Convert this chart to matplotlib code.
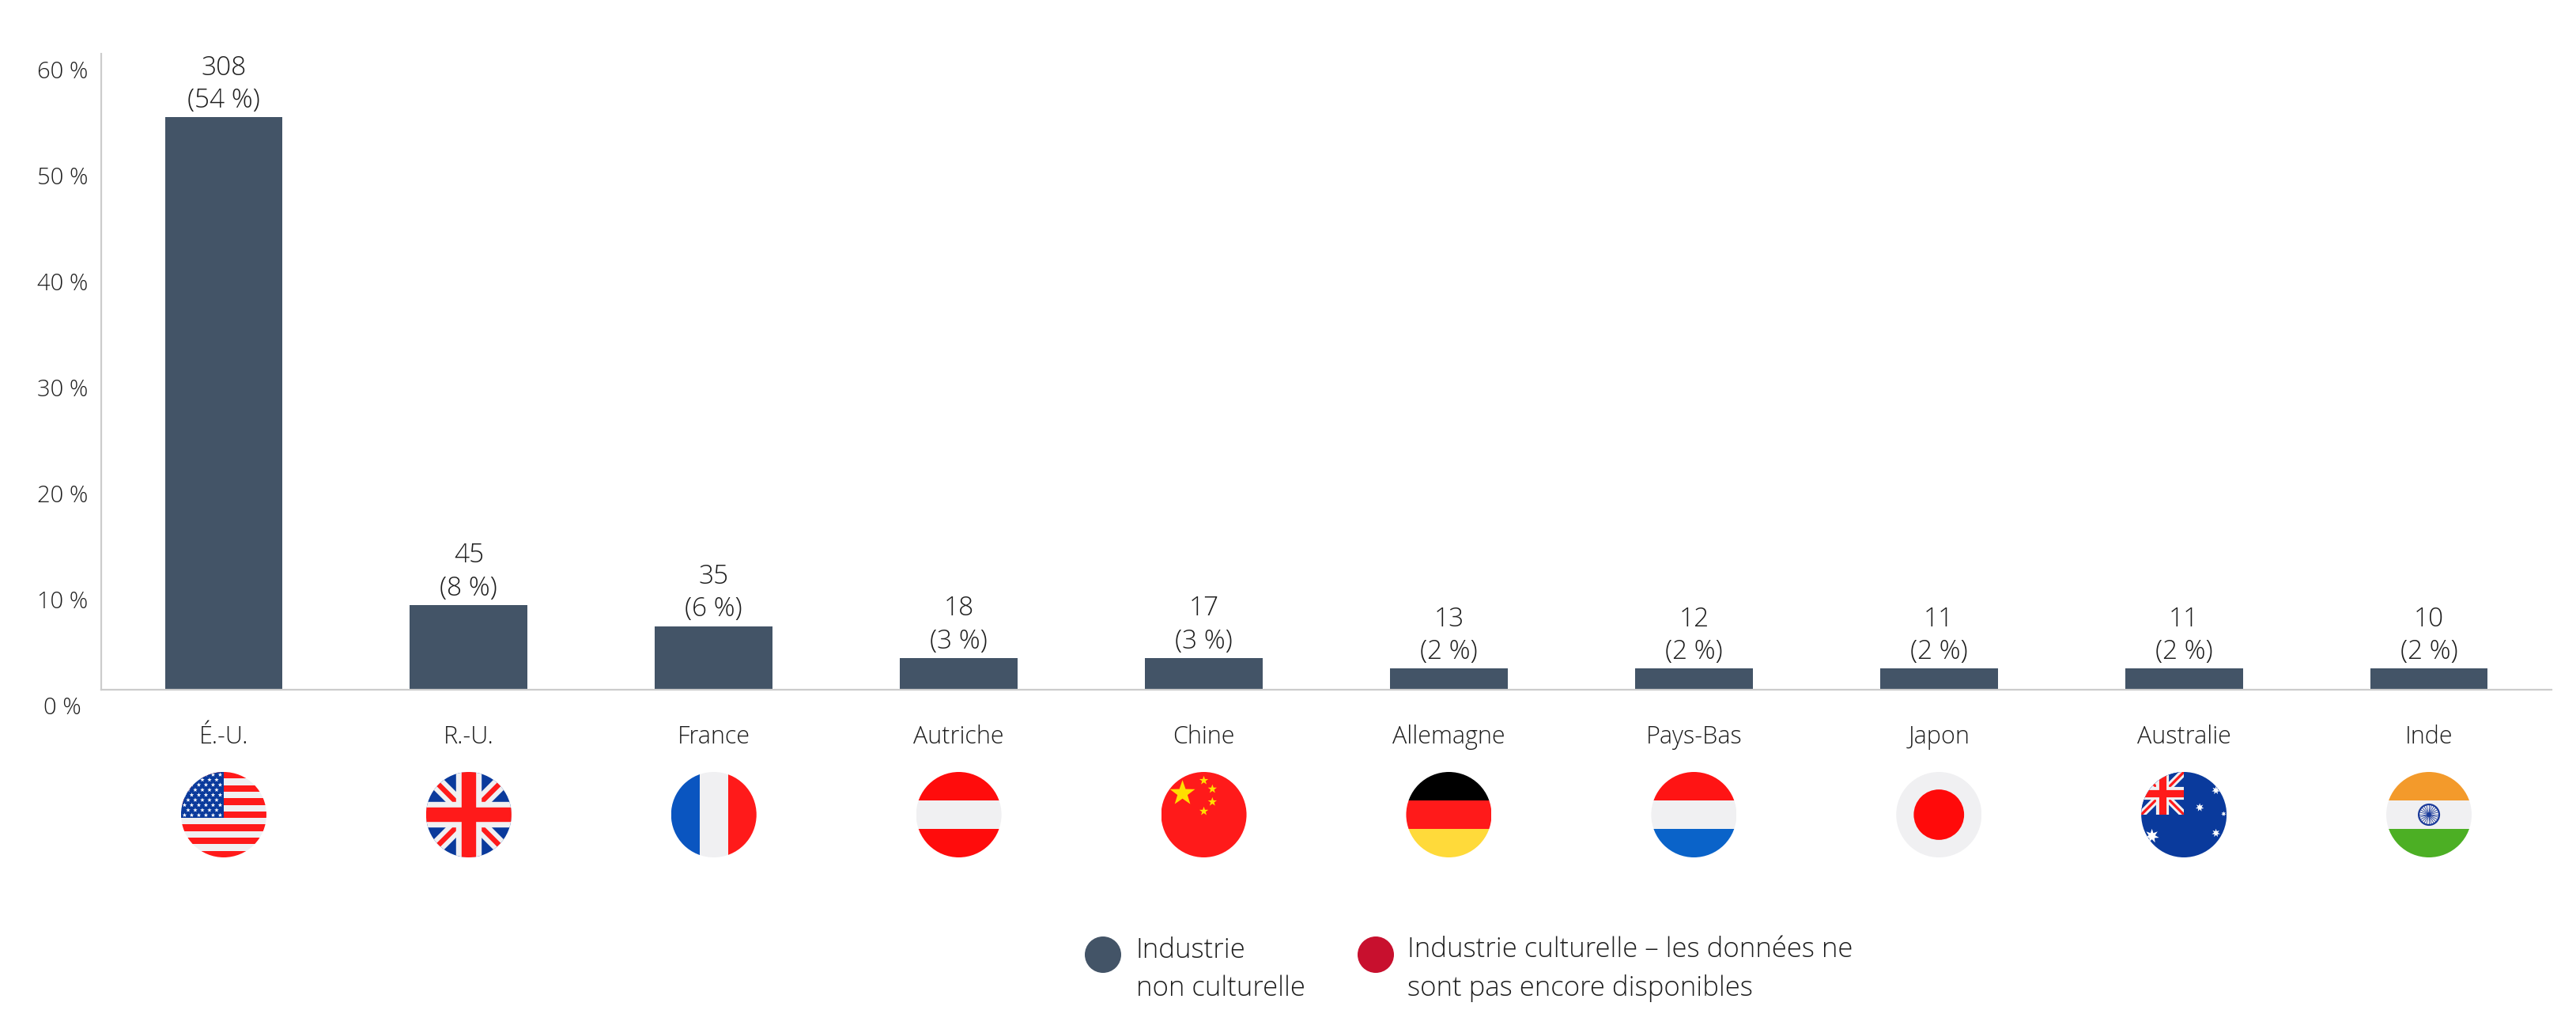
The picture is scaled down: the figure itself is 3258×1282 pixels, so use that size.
import matplotlib
matplotlib.use("Agg")
import matplotlib.pyplot as plt
import numpy as np
from matplotlib.patches import Circle, Rectangle, Polygon
from matplotlib.lines import Line2D
from matplotlib.transforms import ScaledTranslation, Bbox, TransformedBbox

# ---------------- data ----------------
countries = ["É.-U.", "R.-U.", "France", "Autriche", "Chine", "Allemagne",
             "Pays-Bas", "Japon", "Australie", "Inde"]
counts = [308, 45, 35, 18, 17, 13, 12, 11, 11, 10]
shares = [54, 8, 6, 3, 3, 2, 2, 2, 2, 2]
flag_codes = ["us", "gb", "fr", "at", "cn", "de", "nl", "jp", "au", "in"]
yticks = [0, 10, 20, 30, 40, 50, 60]
ytick_labels = ["0 %", "10 %", "20 %", "30 %", "40 %", "50 %", "60 %"]
legend_labels = ["Industrie\nnon culturelle",
                 "Industrie culturelle – les données ne\nsont pas encore disponibles"]
legend_colors = ["#435467", "#c8102e"]

# ---------------- style ----------------
plt.rcParams["font.family"] = ["Open Sans", "DejaVu Sans"]
plt.rcParams["font.weight"] = "light"
TXT = "#1e1e1e"
BAR = "#435467"
SPINE = "#cccccc"

W, H = 3258, 1282
DPI = 200
fig = plt.figure(figsize=(W / DPI, H / DPI), dpi=DPI)
fig.patch.set_facecolor("white")

ax = fig.add_axes([128 / W, 1 - 872 / H, (3227 - 128) / W, (872 - 68) / H])
x = np.arange(len(countries))
ax.bar(x, shares, width=0.48, color=BAR, zorder=2)
ax.set_xlim(-0.5, len(countries) - 0.5)
ax.set_ylim(0, 60)
for s in ["top", "right"]:
    ax.spines[s].set_visible(False)
for s in ["left", "bottom"]:
    ax.spines[s].set_color(SPINE)
    ax.spines[s].set_linewidth(0.8)

ax.set_yticks(yticks, ytick_labels)
ax.tick_params(axis="y", length=0, pad=17.6, labelsize=10.5, labelcolor=TXT)
for lab in ax.get_yticklabels():
    lab.set_horizontalalignment("center")
    lab.set_transform(lab.get_transform() + ScaledTranslation(0, -20 / DPI, fig.dpi_scale_trans))

ax.set_xticks(x, countries)
ax.tick_params(axis="x", length=0, pad=24.5, labelsize=11, labelcolor=TXT)
for lab in ax.get_xticklabels():
    lab.set_verticalalignment("baseline")

for xi, c, s in zip(x, counts, shares):
    ax.annotate(f"{c}\n({s} %)", (xi, s), xytext=(0, 1.5), textcoords="offset points",
                ha="center", va="bottom", fontsize=12, color=TXT, linespacing=1.3)

# ---------------- overlay in pixel coordinates (y down) ----------------
ov = fig.add_axes([0, 0, 1, 1], zorder=5)
ov.set_xlim(0, W)
ov.set_ylim(H, 0)
ov.axis("off")
ov.patch.set_alpha(0)

WHITE = "#f0f0f2"
RED = "#ff1a1a"
BLUE = "#0a3a9c"


def P(px):
    return px * 72 / DPI


def add_patch(p, clip):
    ov.add_patch(p)
    p.set_clip_path(clip)
    return p


def add_line(xs, ys, color, lw_px, clip, box=None):
    ln = Line2D(xs, ys, color=color, lw=P(lw_px), solid_capstyle="butt",
                transform=ov.transData)
    ov.add_line(ln)
    ln.set_clip_path(clip)
    if box is not None:
        ln.set_clip_box(box)
    return ln


def rect(x0, y0, w, h, color, clip, box=None):
    r = Rectangle((x0, y0), w, h, facecolor=color, edgecolor="none",
                  transform=ov.transData)
    add_patch(r, clip)
    if box is not None:
        r.set_clip_box(box)
    return r


def star(cx, cy, R, color, clip, n=5, inner=0.4):
    ang = -np.pi / 2 + np.arange(2 * n) * np.pi / n
    rad = np.array([R, R * inner] * n)
    pts = np.column_stack([cx + rad * np.cos(ang), cy + rad * np.sin(ang)])
    p = Polygon(pts, closed=True, facecolor=color, edgecolor="none",
                transform=ov.transData)
    add_patch(p, clip)


def union_jack(x0, y0, x1, y1, clip, box=None):
    w = x1 - x0
    rect(x0, y0, w, y1 - y0, BLUE, clip, box)
    mx, my = (x0 + x1) / 2, (y0 + y1) / 2
    add_line([x0, x1], [y0, y1], WHITE, 0.17 * w, clip, box)
    add_line([x0, x1], [y1, y0], WHITE, 0.17 * w, clip, box)
    add_line([x0, x1], [y0, y1], RED, 0.06 * w, clip, box)
    add_line([x0, x1], [y1, y0], RED, 0.06 * w, clip, box)
    add_line([mx, mx], [y0, y1], WHITE, 0.30 * w, clip, box)
    add_line([x0, x1], [my, my], WHITE, 0.30 * w, clip, box)
    add_line([mx, mx], [y0, y1], RED, 0.17 * w, clip, box)
    add_line([x0, x1], [my, my], RED, 0.17 * w, clip, box)


def hbands(cx, cy, r, colors, clip):
    h = 2 * r / len(colors)
    for k, c in enumerate(colors):
        rect(cx - r, cy - r + k * h, 2 * r, h, c, clip)


def vbands(cx, cy, r, colors, clip):
    w = 2 * r / len(colors)
    for k, c in enumerate(colors):
        rect(cx - r + k * w, cy - r, w, 2 * r, c, clip)


def draw_flag(code, cx, cy, r):
    clip = Circle((cx, cy), r, transform=ov.transData)
    if code == "us":
        h = 2 * r / 13
        for k in range(13):
            rect(cx - r, cy - r + k * h, 2 * r, h, RED if k % 2 == 0 else WHITE, clip)
        ch = 7 * h
        rect(cx - r, cy - r, r, ch, BLUE, clip)
        for row in range(9):
            yy = cy - r + (row + 0.55) * ch / 9.1
            nst = 6 if row % 2 == 0 else 5
            for j in range(nst):
                xx = cx - r + (j + (0.5 if row % 2 == 0 else 1.0)) * r / 6
                star(xx, yy, 2.9, "white", clip)
    elif code == "gb":
        union_jack(cx - r, cy - r, cx + r, cy + r, clip)
    elif code == "fr":
        vbands(cx, cy, r, ["#0a55c0", WHITE, RED], clip)
    elif code == "at":
        hbands(cx, cy, r, ["#ff0c0c", WHITE, "#ff0c0c"], clip)
    elif code == "cn":
        rect(cx - r, cy - r, 2 * r, 2 * r, RED, clip)
        star(cx - 0.5 * r, cy - 0.5 * r, 0.31 * r, "#ffde00", clip)
        for dx, dy in [(0.0, -0.8), (0.2, -0.6), (0.2, -0.3), (0.0, -0.08)]:
            star(cx + dx * r, cy + dy * r, 0.11 * r, "#ffde00", clip)
    elif code == "de":
        hbands(cx, cy, r, ["#000000", RED, "#ffda3a"], clip)
    elif code == "nl":
        hbands(cx, cy, r, ["#ff1414", WHITE, "#0a63c9"], clip)
    elif code == "jp":
        rect(cx - r, cy - r, 2 * r, 2 * r, WHITE, clip)
        add_patch(Circle((cx, cy), 0.59 * r, facecolor="#ff0a0a", edgecolor="none",
                         transform=ov.transData), clip)
    elif code == "au":
        rect(cx - r, cy - r, 2 * r, 2 * r, BLUE, clip)
        box = TransformedBbox(Bbox.from_extents(cx - r, cy - r, cx, cy), ov.transData)
        union_jack(cx - r, cy - r, cx, cy, clip, box)
        star(cx - 0.75 * r, cy + 0.5 * r, 0.17 * r, "white", clip, n=7, inner=0.45)
        for dx, dy, s in [(0.75, -0.57, 0.1), (0.37, -0.17, 0.1), (0.93, -0.02, 0.06),
                          (0.75, 0.43, 0.1)]:
            star(cx + dx * r, cy + dy * r, s * r, "white", clip, n=7, inner=0.45)
    elif code == "in":
        hbands(cx, cy, r, ["#f39a2b", WHITE, "#4caf24"], clip)
        navy = "#1a3a9a"
        add_patch(Circle((cx, cy), 0.24 * r, facecolor="none", edgecolor=navy,
                         lw=P(2.2), transform=ov.transData), clip)
        for a in np.arange(24) * np.pi / 12:
            add_line([cx, cx + 0.24 * r * np.cos(a)], [cy, cy + 0.24 * r * np.sin(a)],
                     navy, 0.8, clip)
        add_patch(Circle((cx, cy), 0.05 * r, facecolor=navy, edgecolor="none",
                         transform=ov.transData), clip)


FLAG_Y = 1030
FLAG_R = 54
for xi, code in zip(x, flag_codes):
    px = ax.transData.transform((xi, 0))[0]
    draw_flag(code, px, FLAG_Y, FLAG_R)

# ---------------- legend ----------------
leg_items = [(1395, 1437), (1740, 1780)]
for (mx, tx), lab, col in zip(leg_items, legend_labels, legend_colors):
    ov.add_patch(Circle((mx, 1207), 23, facecolor=col, edgecolor="none",
                        transform=ov.transData))
    ov.text(tx, 1259, lab, ha="left", va="baseline", fontsize=12.5, color=TXT,
            linespacing=1.5)

fig.savefig("out.png", dpi=DPI)
